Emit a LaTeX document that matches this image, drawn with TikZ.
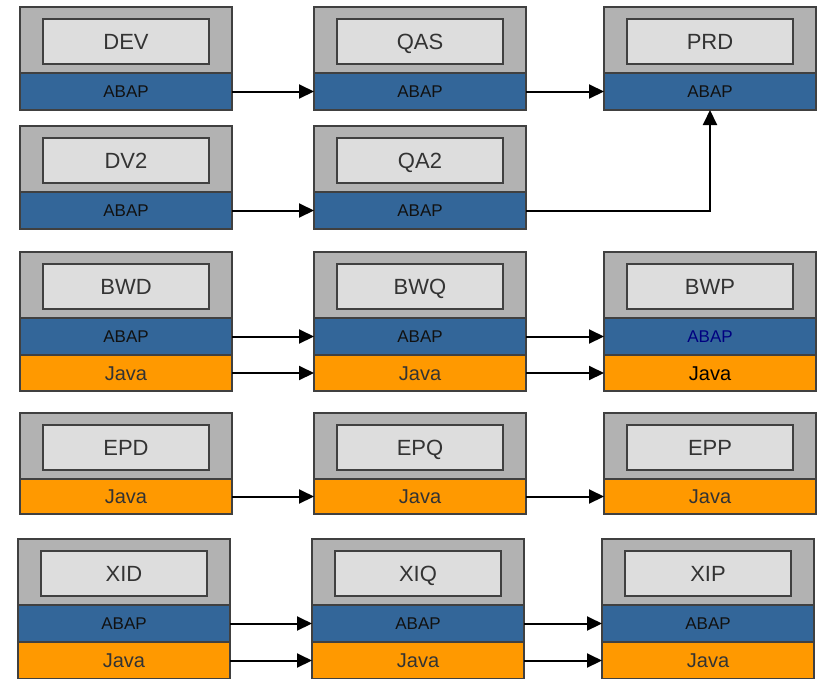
\documentclass[tikz,border=0pt]{standalone}
\usepackage{fontspec}
\setmainfont{Liberation Sans}
\usetikzlibrary{arrows.meta}
\definecolor{edgegray}{HTML}{404040}
\definecolor{framegray}{HTML}{B2B2B2}
\definecolor{namegray}{HTML}{DDDDDD}
\definecolor{abapblue}{HTML}{336699}
\definecolor{javaorange}{HTML}{FF9900}
\definecolor{textgray}{HTML}{333333}
\definecolor{abaptext}{HTML}{111111}
\tikzset{
  sysbox/.style={draw=edgegray, line width=1.6pt, fill=framegray, anchor=north west,
    minimum width=212pt, minimum height=66pt, inner sep=0pt, outer sep=0pt},
  namebox/.style={draw=edgegray, line width=1.6pt, fill=namegray,
    minimum width=166pt, minimum height=45pt, inner sep=0pt,
    font=\fontsize{22}{24}\selectfont, text=textgray,
    text height=15.8pt, text depth=0pt},
  band/.style={draw=edgegray, line width=1.6pt, anchor=north west,
    minimum width=212pt, inner sep=0pt, outer sep=0pt},
  abapband/.style={band, fill=abapblue, minimum height=37pt, text=abaptext,
    font=\fontsize{17}{19}\selectfont, text height=12.2pt, text depth=0pt},
  javaband/.style={band, fill=javaorange, minimum height=36pt, text=textgray,
    font=\fontsize{20}{22}\selectfont, text height=14.3pt, text depth=0pt},
  flow/.style={line width=2pt, -{Triangle[length=15pt,width=14pt]}}
}
% system frame with its name plate: id, left, top, label
\newcommand\sapsys[4]{%
  \node[sysbox] (#1) at (#2,#3) {};
  \node[namebox] (#1-n) at (#2+106,#3+34.5) {#4};}
\begin{document}
\begin{tikzpicture}[x=1pt,y=-1pt]
\useasboundingbox (0,0) rectangle (821,678);

% transport track 1
\sapsys{dev}{20}{7}{DEV}
\node[abapband] (dev-a) at (20,73) {ABAP};
\sapsys{qas}{314}{7}{QAS}
\node[abapband] (qas-a) at (314,73) {ABAP};
\sapsys{prd}{604}{7}{PRD}
\node[abapband] (prd-a) at (604,73) {ABAP};

% transport track 2
\sapsys{dv2}{20}{126}{DV2}
\node[abapband] (dv2-a) at (20,192) {ABAP};
\sapsys{qa2}{314}{126}{QA2}
\node[abapband] (qa2-a) at (314,192) {ABAP};

% BW landscape
\sapsys{bwd}{20}{252}{BWD}
\node[abapband] (bwd-a) at (20,318) {ABAP};
\node[javaband] (bwd-j) at (20,355) {Java};
\sapsys{bwq}{314}{252}{BWQ}
\node[abapband] (bwq-a) at (314,318) {ABAP};
\node[javaband] (bwq-j) at (314,355) {Java};
\sapsys{bwp}{604}{252}{BWP}
\node[abapband, text=blue!50!black] (bwp-a) at (604,318) {ABAP};
\node[javaband, text=black] (bwp-j) at (604,355) {Java};

% portal landscape
\sapsys{epd}{20}{413}{EPD}
\node[javaband, minimum height=35pt] (epd-j) at (20,479) {Java};
\sapsys{epq}{314}{413}{EPQ}
\node[javaband, minimum height=35pt] (epq-j) at (314,479) {Java};
\sapsys{epp}{604}{413}{EPP}
\node[javaband, minimum height=35pt] (epp-j) at (604,479) {Java};

% PI landscape
\sapsys{xid}{18}{539}{XID}
\node[abapband] (xid-a) at (18,605) {ABAP};
\node[javaband, minimum height=37pt] (xid-j) at (18,642) {Java};
\sapsys{xiq}{312}{539}{XIQ}
\node[abapband] (xiq-a) at (312,605) {ABAP};
\node[javaband, minimum height=37pt] (xiq-j) at (312,642) {Java};
\sapsys{xip}{602}{539}{XIP}
\node[abapband] (xip-a) at (602,605) {ABAP};
\node[javaband, minimum height=37pt] (xip-j) at (602,642) {Java};

% transport routes
\draw[flow] (dev-a) -- (qas-a);
\draw[flow] (qas-a) -- (prd-a);
\draw[flow] (dv2-a) -- (qa2-a);
\draw[flow] (qa2-a.east) -| (prd-a.south);
\draw[flow] (bwd-a) -- (bwq-a);
\draw[flow] (bwq-a) -- (bwp-a);
\draw[flow] (bwd-j) -- (bwq-j);
\draw[flow] (bwq-j) -- (bwp-j);
\draw[flow] (epd-j) -- (epq-j);
\draw[flow] (epq-j) -- (epp-j);
\draw[flow] (xid-a) -- (xiq-a);
\draw[flow] (xiq-a) -- (xip-a);
\draw[flow] (xid-j) -- (xiq-j);
\draw[flow] (xiq-j) -- (xip-j);
\end{tikzpicture}
\end{document}
